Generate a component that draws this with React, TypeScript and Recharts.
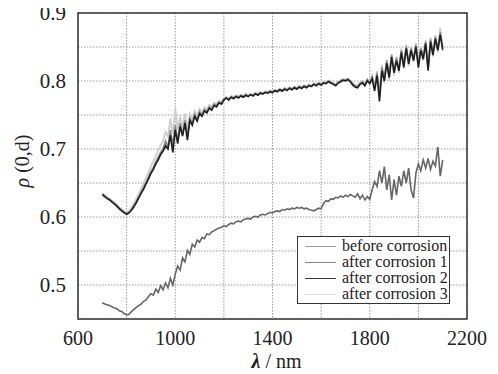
import React from 'react';
import { LineChart, Line, XAxis, YAxis, CartesianGrid, ReferenceArea } from 'recharts';

const wavelengths: number[] = [];
for (let w = 700; w <= 2100; w += 10) wavelengths.push(w);

const beforeCorrosion = [
  0.474, 0.472, 0.471, 0.470, 0.468, 0.466, 0.465, 0.462, 0.461, 0.458, 0.456,
  0.457, 0.461, 0.464, 0.467, 0.470, 0.472, 0.476, 0.478, 0.483, 0.487,
  0.485, 0.494, 0.489, 0.499, 0.493, 0.503, 0.496, 0.510, 0.500, 0.516,
  0.528, 0.522, 0.540, 0.534, 0.551, 0.545, 0.560, 0.556, 0.566, 0.563,
  0.570, 0.568, 0.575, 0.574, 0.578, 0.580, 0.582, 0.584, 0.585, 0.587,
  0.586, 0.589, 0.591, 0.590, 0.593, 0.594, 0.593, 0.596, 0.597, 0.598,
  0.597, 0.600, 0.601, 0.600, 0.603, 0.604, 0.603, 0.605, 0.607, 0.606,
  0.608, 0.609, 0.608, 0.611, 0.610, 0.612, 0.611, 0.613, 0.612, 0.614,
  0.613, 0.614, 0.612, 0.613, 0.611, 0.610, 0.609, 0.611, 0.613, 0.612,
  0.620, 0.624, 0.623, 0.627, 0.626, 0.629, 0.628, 0.631, 0.629, 0.632,
  0.630, 0.633, 0.631, 0.629, 0.634, 0.627, 0.632, 0.625, 0.630, 0.626,
  0.640, 0.652, 0.645, 0.668, 0.650, 0.674, 0.640, 0.662, 0.625, 0.655,
  0.632, 0.660, 0.645, 0.668, 0.650, 0.672, 0.640, 0.628, 0.665, 0.678,
  0.668, 0.684, 0.672, 0.686, 0.670, 0.682, 0.675, 0.703, 0.660, 0.684,
];

const afterCorrosion1 = [
  0.634, 0.631, 0.628, 0.626, 0.623, 0.620, 0.617, 0.613, 0.610, 0.607, 0.605,
  0.607, 0.611, 0.617, 0.623, 0.630, 0.637, 0.644, 0.651, 0.659, 0.667,
  0.673, 0.681, 0.688, 0.695, 0.701, 0.712, 0.703, 0.728, 0.705, 0.735,
  0.712, 0.738, 0.722, 0.742, 0.720, 0.745, 0.738, 0.751, 0.744, 0.755,
  0.750, 0.758, 0.755, 0.762, 0.759, 0.766, 0.764, 0.769, 0.767, 0.773,
  0.775, 0.773, 0.777, 0.775, 0.778, 0.776, 0.779, 0.777, 0.780, 0.778,
  0.780, 0.779, 0.782, 0.780, 0.783, 0.781, 0.784, 0.783, 0.785, 0.784,
  0.786, 0.785, 0.788, 0.786, 0.789, 0.787, 0.790, 0.788, 0.791, 0.789,
  0.792, 0.790, 0.793, 0.791, 0.794, 0.792, 0.796, 0.794, 0.797, 0.795,
  0.798, 0.797, 0.800, 0.798, 0.796, 0.794, 0.798, 0.800, 0.802, 0.801,
  0.803, 0.800, 0.796, 0.793, 0.792, 0.797, 0.799, 0.795, 0.802, 0.798,
  0.806, 0.790, 0.812, 0.778, 0.820, 0.805, 0.830, 0.810, 0.838, 0.816,
  0.834, 0.818, 0.845, 0.824, 0.851, 0.828, 0.848, 0.833, 0.853, 0.825,
  0.848, 0.836, 0.858, 0.820, 0.861, 0.842, 0.865, 0.848, 0.872, 0.850,
];

const afterCorrosion2 = [
  0.633, 0.630, 0.627, 0.625, 0.622, 0.619, 0.616, 0.612, 0.609, 0.606, 0.604,
  0.606, 0.610, 0.615, 0.621, 0.628, 0.635, 0.641, 0.649, 0.656, 0.664,
  0.670, 0.678, 0.684, 0.692, 0.697, 0.705, 0.700, 0.720, 0.695, 0.728,
  0.708, 0.733, 0.719, 0.738, 0.713, 0.742, 0.735, 0.748, 0.741, 0.752,
  0.748, 0.756, 0.753, 0.760, 0.757, 0.764, 0.762, 0.768, 0.766, 0.772,
  0.775, 0.772, 0.776, 0.774, 0.777, 0.775, 0.778, 0.776, 0.779, 0.777,
  0.780, 0.778, 0.781, 0.779, 0.782, 0.781, 0.783, 0.782, 0.784, 0.783,
  0.786, 0.784, 0.787, 0.785, 0.788, 0.786, 0.789, 0.787, 0.790, 0.788,
  0.791, 0.789, 0.792, 0.790, 0.793, 0.792, 0.795, 0.793, 0.796, 0.794,
  0.797, 0.796, 0.799, 0.797, 0.795, 0.793, 0.797, 0.799, 0.801, 0.800,
  0.802, 0.799, 0.794, 0.791, 0.790, 0.795, 0.797, 0.793, 0.800, 0.796,
  0.803, 0.785, 0.808, 0.770, 0.815, 0.800, 0.826, 0.805, 0.835, 0.812,
  0.830, 0.815, 0.842, 0.820, 0.848, 0.825, 0.845, 0.830, 0.850, 0.820,
  0.845, 0.832, 0.855, 0.815, 0.858, 0.838, 0.862, 0.845, 0.868, 0.846,
];

const afterCorrosion3 = [
  0.635, 0.632, 0.629, 0.627, 0.624, 0.621, 0.618, 0.614, 0.611, 0.608, 0.606,
  0.609, 0.614, 0.620, 0.627, 0.634, 0.642, 0.650, 0.658, 0.666, 0.675,
  0.682, 0.690, 0.698, 0.706, 0.712, 0.725, 0.718, 0.745, 0.722, 0.760,
  0.728, 0.748, 0.732, 0.752, 0.730, 0.752, 0.744, 0.756, 0.749, 0.759,
  0.754, 0.761, 0.758, 0.765, 0.762, 0.768, 0.766, 0.771, 0.769, 0.775,
  0.777, 0.774, 0.778, 0.776, 0.779, 0.777, 0.780, 0.778, 0.781, 0.779,
  0.781, 0.780, 0.783, 0.781, 0.784, 0.782, 0.785, 0.784, 0.786, 0.785,
  0.787, 0.786, 0.789, 0.787, 0.790, 0.788, 0.791, 0.789, 0.792, 0.790,
  0.793, 0.791, 0.794, 0.792, 0.795, 0.793, 0.797, 0.795, 0.798, 0.796,
  0.799, 0.798, 0.801, 0.799, 0.797, 0.795, 0.799, 0.801, 0.803, 0.802,
  0.804, 0.801, 0.797, 0.794, 0.793, 0.798, 0.800, 0.796, 0.803, 0.799,
  0.808, 0.792, 0.815, 0.780, 0.824, 0.796, 0.832, 0.800, 0.840, 0.808,
  0.836, 0.812, 0.848, 0.818, 0.854, 0.822, 0.850, 0.828, 0.856, 0.818,
  0.850, 0.830, 0.860, 0.818, 0.864, 0.836, 0.868, 0.842, 0.878, 0.844,
];

const xTicks = [600, 800, 1000, 1200, 1400, 1600, 1800, 2000, 2200];
const xLabeled = [600, 1000, 1400, 1800, 2200];
const yTicks = [0.45, 0.5, 0.55, 0.6, 0.65, 0.7, 0.75, 0.8, 0.85, 0.9];
const yLabeled = [0.5, 0.6, 0.7, 0.8, 0.9];

const seriesNames = ['before corrosion', 'after corrosion 1', 'after corrosion 2', 'after corrosion 3'];
const seriesColors = ['#666666', '#8a8a8a', '#1e1e1e', '#cfcfcf'];
const legendColors = ['#9a9a9a', '#808080', '#3a3a3a', '#dcdcdc'];

const data = wavelengths.map((w, i) => ({
  w,
  b0: beforeCorrosion[i],
  a1: afterCorrosion1[i],
  a2: afterCorrosion2[i],
  a3: afterCorrosion3[i],
}));

const FONT = '"Liberation Serif", "Times New Roman", serif';

const LegendBox = () => (
  <div
    style={{
      position: 'absolute',
      left: 297,
      top: 236,
      width: 151,
      height: 64,
      border: '1.5px solid #333',
      background: '#fff',
      fontFamily: FONT,
      fontSize: 16,
      color: '#222',
      padding: '1px 0',
      lineHeight: '16px',
    }}
  >
    {seriesNames.map((n, i) => (
      <div key={n} style={{ display: 'flex', alignItems: 'center', height: 16, whiteSpace: 'nowrap' }}>
        <div style={{ width: 31, height: 0, borderTop: `1.5px solid ${legendColors[i]}`, marginLeft: 7, marginRight: 6 }} />
        <span>{n}</span>
      </div>
    ))}
  </div>
);

const YLabel = (props: any) => {
  const vb = props.viewBox || {};
  const cx = 23;
  const cy = vb.y + vb.height / 2 - 5;
  return (
    <text x={cx} y={cy} dy={6} transform={`rotate(-90, ${cx}, ${cy})`} textAnchor="middle" fontFamily={FONT} fontSize={20} fill="#222">
      <tspan fontStyle="italic">ρ</tspan>
      <tspan> (0,d)</tspan>
    </text>
  );
};

const XLabel = (props: any) => {
  const vb = props.viewBox || {};
  const cx = vb.x + vb.width / 2 + 4;
  return (
    <text x={cx} y={368} textAnchor="middle" fontFamily={FONT} fontSize={20} fill="#222">
      <tspan fontStyle="italic" fontWeight="bold">λ</tspan>
      <tspan> / nm</tspan>
    </text>
  );
};

export default function App() {
  return (
    <div style={{ position: 'relative', width: 498, height: 374, margin: '-8px 0 0 -8px' }}>
      <LineChart width={498} height={374} data={data} margin={{ top: 13, right: 31, left: 0, bottom: 0 }}>
        <CartesianGrid stroke="#999" strokeDasharray="1.5 1.5" horizontalValues={yTicks} verticalValues={xTicks} />
        <XAxis
          dataKey="w"
          type="number"
          domain={[600, 2200]}
          ticks={xTicks}
          interval={0}
          height={55}
          tickLine={false}
          axisLine={false}
          tick={{ fontFamily: FONT, fontSize: 20, fill: '#222' }}
          tickFormatter={(v: number) => (xLabeled.includes(v) ? String(v) : '')}
          tickMargin={6}
          label={<XLabel />}
        />
        <YAxis
          type="number"
          domain={[0.45, 0.9]}
          ticks={yTicks}
          interval={0}
          width={78}
          tickLine={false}
          axisLine={false}
          tick={{ fontFamily: FONT, fontSize: 21, fill: '#222' }}
          tickFormatter={(v: number) => (yLabeled.some((t) => Math.abs(t - v) < 1e-6) ? v.toFixed(1) : '')}
          tickMargin={6}
          label={<YLabel />}
        />
        <Line dataKey="b0" stroke={seriesColors[0]} strokeWidth={1.6} dot={false} isAnimationActive={false} />
        <Line dataKey="a3" stroke={seriesColors[3]} strokeWidth={1.8} dot={false} isAnimationActive={false} />
        <Line dataKey="a1" stroke={seriesColors[1]} strokeWidth={1.6} dot={false} isAnimationActive={false} />
        <Line dataKey="a2" stroke={seriesColors[2]} strokeWidth={1.6} dot={false} isAnimationActive={false} />
        <ReferenceArea x1={600} x2={2200} y1={0.45} y2={0.9} fill="none" stroke="#333" strokeWidth={1.5} ifOverflow="visible" />
      </LineChart>
      <LegendBox />
    </div>
  );
}
